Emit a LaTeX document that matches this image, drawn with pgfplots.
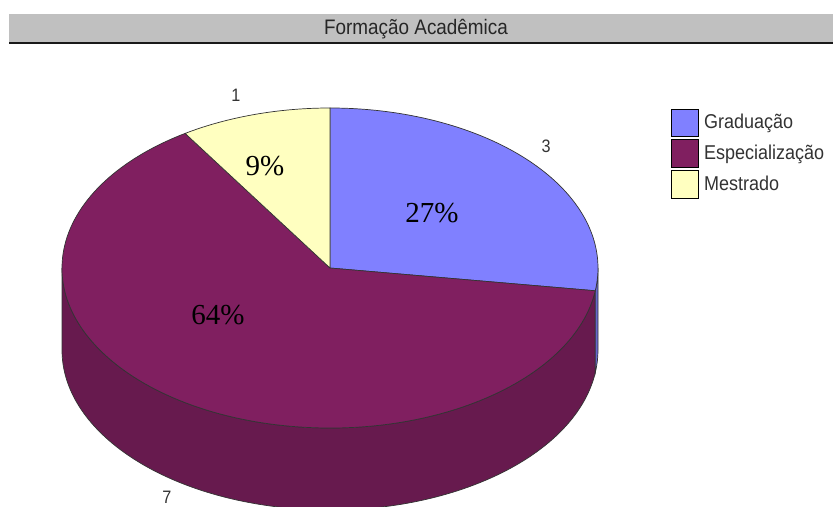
\documentclass[border=0pt]{standalone}
\usepackage{pgfplots}
\usepackage{pgfplotstable}
\pgfplotsset{compat=1.18}
\usepackage{fontspec}
\setmainfont{Liberation Sans}
\newfontfamily\pctfont{Liberation Serif}
\definecolor{cGrad}{HTML}{8080FF}
\definecolor{cGradSide}{HTML}{6666CC}
\definecolor{cEsp}{HTML}{801F60}
\definecolor{cEspSide}{HTML}{671A4E}
\definecolor{cMes}{HTML}{FFFFC0}
\definecolor{cBar}{HTML}{C0C0C0}
\newcommand{\tx}[1]{\scalebox{0.9}[1]{#1}}
\pgfplotstableread{
cat val
Graduacao 3
Especializacao 7
Mestrado 1
}\pietable
\begin{document}
\begin{tikzpicture}
\pgfplotstablegetelem{0}{val}\of\pietable \let\vG\pgfplotsretval
\pgfplotstablegetelem{1}{val}\of\pietable \let\vE\pgfplotsretval
\pgfplotstablegetelem{2}{val}\of\pietable \let\vM\pgfplotsretval
\pgfmathsetmacro{\tot}{\vG+\vE+\vM}
\pgfmathsetmacro{\aA}{90}
\pgfmathsetmacro{\aB}{90-360*\vG/\tot}
\pgfmathsetmacro{\aC}{\aB-360*\vE/\tot}
\pgfmathsetmacro{\aD}{\aC-360*\vM/\tot}
\begin{axis}[width=833bp,height=507bp,scale only axis,
  xmin=0,xmax=833,ymin=0,ymax=507,hide axis,clip=true]
\addplot[draw=none,fill=white] coordinates {(0,0)(833,0)(833,507)(0,507)} -- cycle;
% title bar
\addplot[draw=none,fill=cBar] coordinates {(9,464)(833,464)(833,493)(9,493)} -- cycle;
\addplot[black!90,line width=2.5bp] coordinates {(9,463.8)(833,463.8)};
\node[anchor=base,font=\fontsize{21bp}{24bp}\selectfont,text=black!85,inner sep=0pt] at (axis cs:416,472) {\tx{Formação Acadêmica}};
% pie
\coordinate (C) at (axis cs:330,239);
% side walls
\filldraw[fill=cEspSide,draw=black!80,line width=0.7bp] (C) ++(-180:268bp and 160bp) arc[start angle=-180,end angle=\aB,x radius=268bp,y radius=160bp] -- ++(0,-82bp) arc[start angle=\aB,end angle=-180,x radius=268bp,y radius=160bp] -- cycle;
\filldraw[fill=cGradSide,draw=black!80,line width=0.7bp] (C) ++(\aB:268bp and 160bp) arc[start angle=\aB,end angle=0,x radius=268bp,y radius=160bp] -- ++(0,-82bp) arc[start angle=0,end angle=\aB,x radius=268bp,y radius=160bp] -- cycle;
% top faces
\filldraw[fill=cGrad,draw=black!80,line width=0.7bp] (C) -- ++(\aA:268bp and 160bp) arc[start angle=\aA,end angle=\aB,x radius=268bp,y radius=160bp] -- cycle;
\filldraw[fill=cEsp,draw=black!80,line width=0.7bp] (C) -- ++(\aB:268bp and 160bp) arc[start angle=\aB,end angle=\aC,x radius=268bp,y radius=160bp] -- cycle;
\filldraw[fill=cMes,draw=black!80,line width=0.7bp] (C) -- ++(\aC:268bp and 160bp) arc[start angle=\aC,end angle=\aD,x radius=268bp,y radius=160bp] -- cycle;
% value labels
\node[font=\fontsize{18bp}{20bp}\selectfont,text=black!80] at (axis cs:236,412) {\tx{1}};
\node[font=\fontsize{18bp}{20bp}\selectfont,text=black!80] at (axis cs:546,361) {\tx{3}};
\node[font=\fontsize{18bp}{20bp}\selectfont,text=black!80,inner sep=0pt] at (axis cs:167,10) {\tx{7}};
% percent labels
\node[font=\pctfont\fontsize{29bp}{32bp}\selectfont] at (axis cs:265,341) {9\%};
\node[font=\pctfont\fontsize{29bp}{32bp}\selectfont] at (axis cs:432,294) {27\%};
\node[font=\pctfont\fontsize{29bp}{32bp}\selectfont] at (axis cs:218,192) {64\%};
% legend
\addplot[draw=black,line width=1bp,fill=cGrad] coordinates {(671,370)(698,370)(698,397)(671,397)} -- cycle;
\addplot[draw=black,line width=1bp,fill=cEsp] coordinates {(671,339)(698,339)(698,367)(671,367)} -- cycle;
\addplot[draw=black,line width=1bp,fill=cMes] coordinates {(671,308)(698,308)(698,336)(671,336)} -- cycle;
\node[anchor=base west,inner sep=0pt,font=\fontsize{20bp}{22bp}\selectfont,text=black!80] at (axis cs:704,378) {\tx{Graduação}};
\node[anchor=base west,inner sep=0pt,font=\fontsize{20bp}{22bp}\selectfont,text=black!80] at (axis cs:704,347) {\tx{Especialização}};
\node[anchor=base west,inner sep=0pt,font=\fontsize{20bp}{22bp}\selectfont,text=black!80] at (axis cs:704,316) {\tx{Mestrado}};
\end{axis}
\end{tikzpicture}
\end{document}
